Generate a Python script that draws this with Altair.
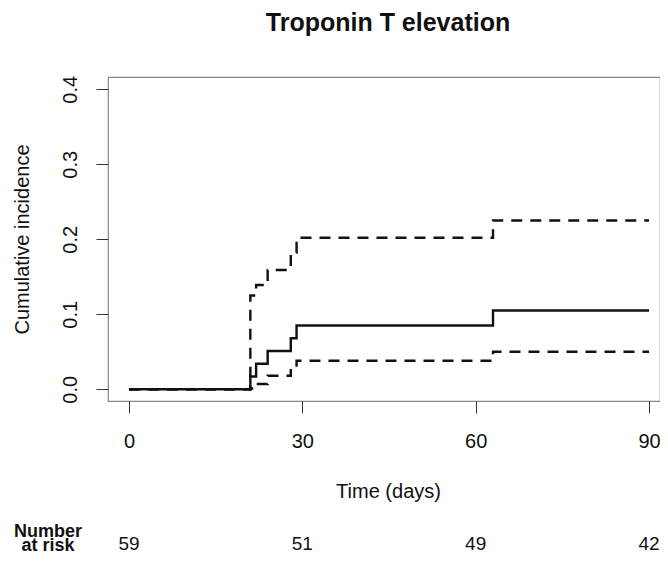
import altair as alt
import pandas as pd

# ---- data ----
times = [0, 21, 22, 24, 28, 29, 63, 90]
estimate = [0.0, 0.017, 0.034, 0.051, 0.068, 0.085, 0.105, 0.105]
upper = [0.0, 0.125, 0.139, 0.159, 0.182, 0.202, 0.225, 0.225]
lower = [0.0, 0.001, 0.007, 0.018, 0.027, 0.038, 0.050, 0.050]
series_names = ["Estimate", "Upper", "Lower"]
risk_times = [0, 30, 60, 90]
at_risk = [59, 51, 49, 42]
x_ticks = [0, 30, 60, 90]
y_ticks = [0.0, 0.1, 0.2, 0.3, 0.4]

rows = []
for name, vals in zip(series_names, [estimate, upper, lower]):
    for t, v in zip(times, vals):
        rows.append({"time": t, "value": v, "series": name})
df = pd.DataFrame(rows)
risk_df = pd.DataFrame({"time": risk_times, "n": at_risk})
label_df = pd.DataFrame({"t": ["Number\nat risk"]})

FONT = "Liberation Sans"
INK = "#111111"
W, H = 552, 324

x_scale = alt.Scale(domain=[-3.634, 91.9], nice=False, zero=False)
y_scale = alt.Scale(domain=[-0.0156, 0.4164], nice=False, zero=False)

x_axis = alt.Axis(
    values=x_ticks, domain=False, grid=False, tickSize=12, tickColor="#333333",
    labelFontSize=20, labelFont=FONT, labelColor=INK, labelBaseline="alphabetic",
    labelPadding=34, labelAlign="center", labelFlush=False,
    title="Time (days)", titleFontSize=20, titleFont=FONT, titleFontWeight="normal",
    titleColor=INK, titleBaseline="alphabetic", titleX=280, titleY=96, titleAlign="center",
)
y_axis = alt.Axis(
    values=y_ticks, format=".1f", domain=False, grid=False, tickSize=12, tickColor="#333333",
    labelFontSize=20, labelFont=FONT, labelColor=INK, labelAngle=270, labelAlign="center",
    labelBaseline="alphabetic", labelPadding=20, labelFlush=False,
    title="Cumulative incidence", titleFontSize=20, titleFont=FONT, titleFontWeight="normal",
    titleColor=INK, titleAngle=270, titleAlign="center", titleBaseline="alphabetic",
    titleX=-80, titleY=162,
)

x_enc = alt.X("time:Q", scale=x_scale, axis=x_axis)

lines = alt.Chart(df).mark_line(interpolate="step-after", strokeWidth=2.4, color=INK).encode(
    x=x_enc,
    y=alt.Y("value:Q", scale=y_scale, axis=y_axis),
    strokeDash=alt.StrokeDash(
        "series:N",
        scale=alt.Scale(domain=series_names, range=[[1, 0], [11, 8], [11, 8]]),
        legend=None,
    ),
)

risk = alt.Chart(risk_df).mark_text(
    fontSize=19, font=FONT, color=INK, baseline="alphabetic", align="center"
).encode(x=x_enc, y=alt.value(473), text="n:Q")

label = alt.Chart(label_df).mark_text(
    fontSize=18, font=FONT, fontWeight="bold", color=INK, baseline="alphabetic",
    align="center", lineBreak="\n", lineHeight=13.5
).encode(x=alt.value(-60), y=alt.value(460), text="t:N")

chart = alt.layer(lines, risk, label).properties(
    width=W,
    height=H,
    autosize=alt.AutoSizeParams(type="none"),
    padding={"left": 100, "top": 69, "right": 0, "bottom": 154},
    title=alt.TitleParams(
        "Troponin T elevation", fontSize=25, fontWeight="bold", font=FONT,
        anchor="middle", offset=19, baseline="alphabetic", color=INK, dx=4,
    ),
).configure_view(stroke="#888888", strokeWidth=1.2)

chart.save("out.html", embed_options={"renderer": "svg", "actions": False})
